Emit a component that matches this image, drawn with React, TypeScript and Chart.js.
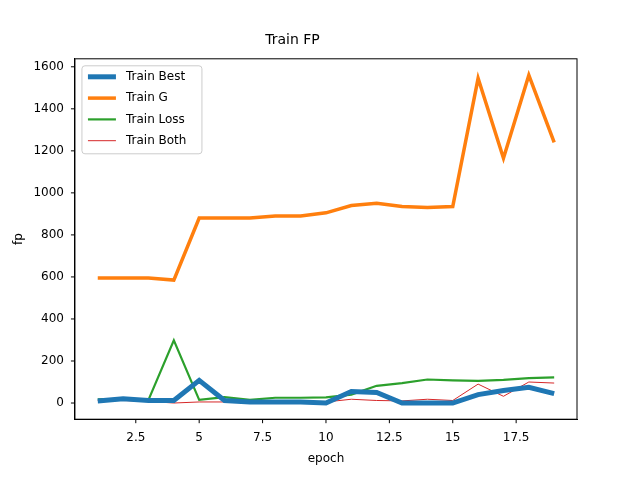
import React, { useEffect, useRef } from "react";
import { Chart, registerables } from "chart.js";
Chart.register(...registerables);

const epochs = [1,2,3,4,5,6,7,8,9,10,11,12,13,14,15,16,17,18,19];
const trainBest = [10,20,12,12,108,12,5,5,5,0,55,50,0,0,0,40,60,75,45];
const trainG = [595,595,595,585,880,880,880,890,890,905,940,950,935,930,935,1545,1165,1560,1240];
const trainLoss = [18,20,15,298,15,28,15,25,25,27,40,82,95,112,108,105,110,118,122];
const trainBoth = [12,12,8,0,5,5,5,5,5,5,18,12,10,18,12,90,32,100,95];
const xTicks = [2.5,5,7.5,10,12.5,15,17.5];
const yTicks = [0,200,400,600,800,1000,1200,1400,1600];

export default function App() {
  const ref = useRef<HTMLCanvasElement>(null);
  useEffect(() => {
    const mk = (label: string, d: number[], color: string, w: number) => ({
      label, data: d.map((y, i) => ({ x: epochs[i], y })), borderColor: color, backgroundColor: color,
      borderWidth: w, pointRadius: 0, tension: 0,
    });
    const font = { family: "DejaVu Sans", size: 12 };
    const chart = new Chart(ref.current!, {
      type: "line",
      data: { datasets: [
        mk("Train Best", trainBest, "#1f77b4", 5),
        mk("Train G", trainG, "#ff7f0e", 3.5),
        mk("Train Loss", trainLoss, "#2ca02c", 2.2),
        mk("Train Both", trainBoth, "#d62728", 1),
      ] },
      options: {
        animation: false, responsive: false,
        layout: { padding: { left: 8, right: 63, top: 12, bottom: 10 } },
        plugins: {
          title: { display: true, text: "Train FP", color: "#000", font: { family: "DejaVu Sans", size: 14, weight: "normal" }, padding: { top: 20, bottom: 10 } },
          legend: { display: false },
          tooltip: { enabled: false },
        },
        scales: {
          x: { type: "linear", min: 0.1, max: 19.9, grid: { display: false },
            border: { color: "#000" },
            afterBuildTicks: (s: any) => { s.ticks = xTicks.map(v => ({ value: v })); },
            ticks: { color: "#000", font, maxRotation: 0, callback: (v: any) => String(v) },
            title: { display: true, text: "epoch", color: "#000", font } },
          y: { min: -77, max: 1638, grid: { display: false },
            border: { color: "#000" },
            afterBuildTicks: (s: any) => { s.ticks = yTicks.map(v => ({ value: v })); },
            ticks: { color: "#000", font, callback: (v: any) => String(v) },
            title: { display: true, text: "fp", color: "#000", font } },
        },
      },
      plugins: [{ id: "box", afterDraw(c: any) {
        const a = c.chartArea; const ctx = c.ctx; ctx.save();
        ctx.strokeStyle = "#000"; ctx.lineWidth = 1;
        ctx.strokeRect(a.left, a.top, a.right - a.left, a.bottom - a.top);
        // tick marks
        ctx.beginPath();
        xTicks.forEach(v => { const x = c.scales.x.getPixelForValue(v); ctx.moveTo(x, a.bottom); ctx.lineTo(x, a.bottom + 4); });
        yTicks.forEach(v => { const y = c.scales.y.getPixelForValue(v); ctx.moveTo(a.left, y); ctx.lineTo(a.left - 4, y); });
        ctx.stroke();
        // legend
        const lx = a.left + 7, ly = a.top + 7, lw = 120, lh = 88;
        ctx.fillStyle = "rgba(255,255,255,0.8)"; ctx.strokeStyle = "#ccc";
        ctx.beginPath(); (ctx as any).roundRect(lx, ly, lw, lh, 3); ctx.fill(); ctx.stroke();
        ctx.font = "12px 'DejaVu Sans'"; ctx.textBaseline = "middle";
        c.data.datasets.forEach((d: any, i: number) => {
          const y = ly + 11 + i * 21.3;
          ctx.strokeStyle = d.borderColor; ctx.lineWidth = d.borderWidth;
          ctx.beginPath(); ctx.moveTo(lx + 6, y); ctx.lineTo(lx + 34, y); ctx.stroke();
          ctx.fillStyle = "#000"; ctx.fillText(d.label, lx + 44, y);
        });
        ctx.restore();
      } }],
    });
    return () => chart.destroy();
  }, []);
  return <canvas ref={ref} width={640} height={480} style={{ position: "absolute", left: 0, top: 0 }} />;
}
